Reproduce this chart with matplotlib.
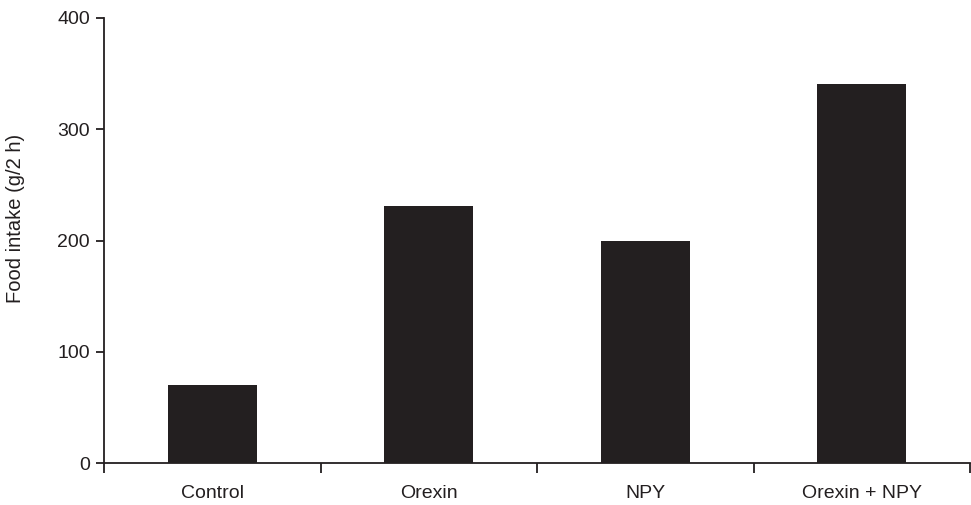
import numpy as np
import matplotlib.pyplot as plt

categories = ["Control", "Orexin", "NPY", "Orexin + NPY"]
intake = [70, 231, 200, 341]
yticks = [0, 100, 200, 300, 400]

ink = "#231f20"
plt.rcParams['font.family'] = ['Liberation Sans', 'DejaVu Sans']

fig = plt.figure(figsize=(9.71, 5.05), dpi=100)
ax = fig.add_axes([104 / 971, 1 - 463.3 / 505, (970 - 104) / 971, (463.3 - 18) / 505])

x = np.arange(len(categories)) + 0.5
ax.bar(x, intake, width=0.41, color=ink, edgecolor='none')

ax.set_xlim(0, len(categories))
ax.set_ylim(0, 400)

# major ticks at category boundaries, labels on minor ticks at centers
ax.set_xticks(np.arange(len(categories) + 1))
ax.set_xticklabels([])
ax.set_xticks(x, minor=True)
ax.set_xticklabels(categories, minor=True)
ax.tick_params(axis='x', which='major', direction='out', length=7.3, width=1.3, color=ink)
ax.tick_params(axis='x', which='minor', length=0, pad=15.5, labelsize=14, labelcolor=ink)

ax.set_yticks(yticks)
ax.tick_params(axis='y', direction='out', length=5.5, width=1.3, color=ink, pad=4.5,
               labelsize=14, labelcolor=ink)

for side in ['top', 'right']:
    ax.spines[side].set_visible(False)
for side in ['left', 'bottom']:
    ax.spines[side].set_linewidth(1.3)
    ax.spines[side].set_color(ink)

ax.set_ylabel("Food intake (g/2 h)", fontsize=14.5, color=ink)
ax.yaxis.set_label_coords(-0.091, 0.55)

fig.savefig("out.png", dpi=100)
